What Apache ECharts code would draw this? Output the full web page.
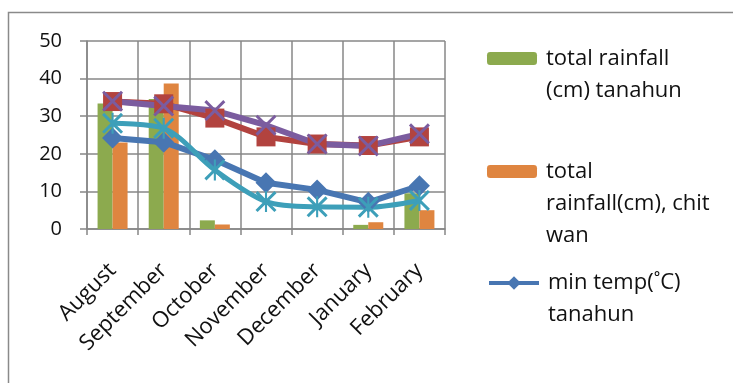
<!DOCTYPE html>
<html>
<head>
<meta charset="utf-8">
<script src="https://cdn.jsdelivr.net/npm/echarts@6/dist/echarts.min.js"></script>
<style>
  html, body { margin: 0; padding: 0; background: #fff; }
  #chart { width: 733px; height: 383px; }
</style>
</head>
<body>
<div id="chart"></div>
<script>
// Monthly rainfall and temperature, Tanahun vs Chitwan
const months = ['August', 'September', 'October', 'November', 'December', 'January', 'February'];

const rainTanahun = [33.4, 34.6, 2.3, 0, 0, 1.1, 9.5];
const rainChitwan = [23.0, 38.7, 1.2, 0, 0, 1.8, 5.0];
const minTempTanahun = [24.2, 23.1, 18.4, 12.3, 10.4, 7.1, 11.5];
const maxTempTanahun = [33.9, 33.3, 29.5, 24.5, 22.6, 22.2, 24.5];
const maxTempChitwan = [34.0, 32.7, 31.5, 27.6, 22.6, 22.1, 25.3];
const minTempChitwan = [28.1, 26.8, 15.7, 7.3, 5.9, 5.8, 7.6];

const yTicks = { min: 0, max: 50, step: 10 };

const names = {
  rainT: 'total rainfall (cm) tanahun',
  rainC: 'total rainfall(cm), chitwan',
  minT: 'min temp(˚C) tanahun',
  maxT: 'max temp(˚C) tanahun',
  maxC: 'max temp(˚C) chitwan',
  minC: 'min temp(˚C) chitwan'
};
// wrapped legend lines
const legendLines = {
  [names.rainT]: ['total rainfall', '(cm) tanahun'],
  [names.rainC]: ['total', 'rainfall(cm), chit', 'wan'],
  [names.minT]: ['min temp(˚C)', 'tanahun']
};

const FONT = 'Open Sans';
const GRID_COLOR = '#878787';
const LH = 32;

// marker shapes
const crossPath = 'path://M0,2 L2,0 L10,8 L18,0 L20,2 L12,10 L20,18 L18,20 L10,12 L2,20 L0,18 L8,10 Z';
const starPath = crossPath + ' M9,0 L11,0 L11,20 L9,20 Z';

// The legend centres text on its icon; blank lines on top keep the
// first text line level with the icon.
function legendBlock(name, top, extra) {
  const lines = legendLines[name];
  return Object.assign({
    data: [name],
    orient: 'vertical',
    left: 487,
    top: top,
    padding: 0,
    itemWidth: 50,
    itemHeight: 13,
    selectedMode: false,
    formatter: n => new Array(lines.length - 1).fill('').concat(lines).join('\n'),
    textStyle: {
      fontFamily: FONT,
      fontSize: 22,
      color: '#111',
      lineHeight: LH,
      padding: [0, 0, 0, 4]
    }
  }, extra || {});
}

const chart = echarts.init(document.getElementById('chart'), null, { renderer: 'canvas' });
chart.setOption({
  animation: false,
  backgroundColor: '#fff',
  graphic: [{
    type: 'rect',
    shape: { x: 8.5, y: 12.5, width: 900, height: 600 },
    style: { fill: 'none', stroke: '#8a8a8a', lineWidth: 1.5 },
    silent: true,
    z: -1
  }],
  legend: [
    legendBlock(names.rainT, 10.5),
    legendBlock(names.rainC, 91.5),
    legendBlock(names.minT, 235, { itemHeight: 17, lineStyle: { width: 4 } })
  ],
  grid: { left: 87, top: 41, width: 358, height: 188, containLabel: false },
  xAxis: {
    type: 'category',
    data: months,
    boundaryGap: true,
    axisLine: { lineStyle: { color: GRID_COLOR, width: 1.5 } },
    axisTick: { show: true, alignWithLabel: false, length: 6, lineStyle: { color: GRID_COLOR, width: 1.5 } },
    splitLine: { show: true, interval: 0, lineStyle: { color: GRID_COLOR, width: 1.5 } },
    axisLabel: {
      interval: 0,
      rotate: 45,
      margin: 38,
      fontFamily: FONT,
      fontSize: 22,
      color: '#111'
    }
  },
  yAxis: {
    type: 'value',
    min: yTicks.min,
    max: yTicks.max,
    interval: yTicks.step,
    axisLine: { show: true, lineStyle: { color: GRID_COLOR, width: 1.5 } },
    axisTick: { show: true, length: 7, lineStyle: { color: GRID_COLOR, width: 1.5 } },
    splitLine: { show: true, lineStyle: { color: GRID_COLOR, width: 1.5 } },
    axisLabel: { margin: 25, fontFamily: FONT, fontSize: 20, color: '#111' }
  },
  series: [
    {
      name: names.rainT, type: 'bar', data: rainTanahun,
      barWidth: 15, barGap: '0%',
      itemStyle: { color: '#8caa4e' }
    },
    {
      name: names.rainC, type: 'bar', data: rainChitwan,
      barWidth: 15, barGap: '0%',
      itemStyle: { color: '#df8540' }
    },
    {
      name: names.minT, type: 'line', data: minTempTanahun,
      symbol: 'diamond', symbolSize: 21,
      lineStyle: { color: '#4876b2', width: 6 },
      itemStyle: { color: '#4876b2' }
    },
    {
      name: names.maxT, type: 'line', data: maxTempTanahun,
      symbol: 'rect', symbolSize: 19,
      lineStyle: { color: '#b2433f', width: 6 },
      itemStyle: { color: '#b2433f' }
    },
    {
      name: names.maxC, type: 'line', data: maxTempChitwan,
      symbol: crossPath, symbolSize: 21,
      lineStyle: { color: '#7b5c9f', width: 6 },
      itemStyle: { color: '#7b5c9f' }
    },
    {
      name: names.minC, type: 'line', data: minTempChitwan,
      smooth: 0.3,
      symbol: starPath, symbolSize: 21,
      lineStyle: { color: '#3d9fb9', width: 5 },
      itemStyle: { color: '#3d9fb9' }
    }
  ]
});
</script>
</body>
</html>
